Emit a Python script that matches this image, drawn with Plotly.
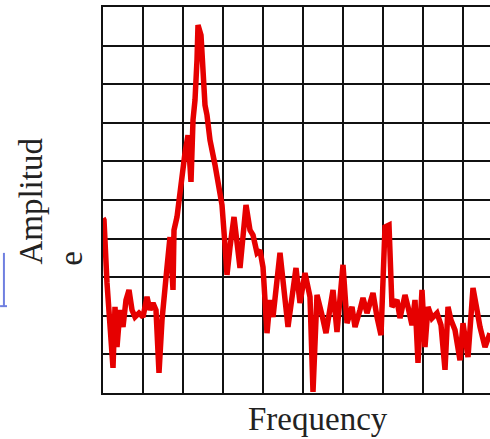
import plotly.graph_objects as go

frequency = [0.00, 0.025, 0.10, 0.25, 0.30, 0.35, 0.425, 0.50, 0.575, 0.65, 0.725, 0.80, 0.90, 1.00,
             1.10, 1.175, 1.25, 1.325, 1.40, 1.475, 1.60, 1.675, 1.75, 1.775, 1.85, 1.925, 1.975,
             2.05, 2.125, 2.20, 2.25, 2.30, 2.35, 2.375, 2.45, 2.50, 2.55, 2.60, 2.675, 2.80, 2.875,
             2.975, 3.05, 3.10, 3.175, 3.275, 3.425, 3.575, 3.675, 3.75, 3.85, 3.925, 4.00, 4.10,
             4.175, 4.25, 4.425, 4.625, 4.825, 4.925, 5.05, 5.175, 5.25, 5.35, 5.475, 5.575, 5.75,
             5.85, 6.00, 6.10, 6.225, 6.30, 6.425, 6.50, 6.60, 6.675, 6.75, 6.85, 6.95, 7.05, 7.15,
             7.225, 7.35, 7.425, 7.55, 7.625, 7.725, 7.80, 7.875, 7.975, 8.05, 8.125, 8.225, 8.35,
             8.45, 8.55, 8.625, 8.70, 8.80, 8.925, 9.00, 9.125, 9.25, 9.35, 9.425, 9.55, 9.675]

amplitude = [4.53, 4.48, 2.85, 0.65, 2.23, 1.19, 2.15, 1.71, 2.41, 2.67, 2.15, 1.97, 2.07, 1.97,
             2.49, 2.15, 2.33, 2.15, 0.52, 1.89, 3.26, 4.04, 2.67, 4.22, 4.56, 5.26, 5.78,
             6.22, 6.68, 5.47, 7.07, 7.59, 8.63, 9.53, 9.27, 8.19, 7.46, 7.20, 6.55, 5.91, 5.52,
             4.87, 3.83, 3.06, 3.78, 4.56, 3.24, 4.87, 4.22, 4.09, 3.63, 3.70, 3.26, 1.55,
             2.41, 1.97, 3.63, 1.71, 3.24, 2.33, 3.11, 2.49, 0.03, 2.54, 2.02, 1.55, 2.67,
             1.58, 3.32, 1.81, 2.23, 1.71, 2.15, 2.46, 2.07, 2.33, 2.59, 1.97, 1.50, 4.30, 4.35,
             2.23, 2.41, 1.94, 2.54, 2.23, 1.76, 2.41, 0.78, 2.67, 1.19, 2.23, 1.94, 2.07,
             1.76, 0.60, 2.23, 1.89, 1.63, 0.85, 1.81, 0.93, 2.72, 2.15, 1.71, 1.19, 1.55]

x_title = "Frequency"
y_title_lines = ["Amplitud", "e"]

fig = go.Figure()
fig.add_trace(go.Scatter(
    x=frequency, y=amplitude, mode="lines",
    line=dict(color="#e60000", width=5.5),
    hoverinfo="skip", showlegend=False,
))

serif = "Liberation Serif, Times New Roman, serif"

fig.update_layout(
    width=490, height=439,
    margin=dict(l=103, r=0, t=7, b=46),
    paper_bgcolor="white", plot_bgcolor="white",
    xaxis=dict(range=[0, 9.675], dtick=1, tick0=0, showgrid=True, gridcolor="#111",
               gridwidth=2, showticklabels=False, ticks="", zeroline=False,
               showline=True, linecolor="#111", linewidth=2, mirror=True),
    yaxis=dict(range=[0, 10], dtick=1, tick0=0, showgrid=True, gridcolor="#111",
               gridwidth=2, showticklabels=False, ticks="", zeroline=False,
               showline=True, linecolor="#111", linewidth=2, mirror=False),
    annotations=[
        dict(text=x_title, xref="paper", yref="paper", x=0.556, y=-0.068,
             showarrow=False, xanchor="center", yanchor="middle",
             font=dict(family=serif, size=33, color="#222")),
        dict(text=y_title_lines[0], xref="paper", yref="paper", x=-0.185, y=0.497,
             showarrow=False, textangle=-90, xanchor="center", yanchor="middle",
             font=dict(family=serif, size=33, color="#222")),
        dict(text=y_title_lines[1], xref="paper", yref="paper", x=-0.083, y=0.35,
             showarrow=False, textangle=-90, xanchor="center", yanchor="middle",
             font=dict(family=serif, size=33, color="#222")),
    ],
    shapes=[
        dict(type="line", xref="paper", yref="paper", x0=-0.256, x1=-0.256, y0=0.225, y1=0.363,
             line=dict(color="#6f7fe0", width=2)),
        dict(type="line", xref="paper", yref="paper", x0=-0.266, x1=-0.248, y0=0.225, y1=0.225,
             line=dict(color="#6f7fe0", width=2)),
    ],
)

fig.write_html("out.html", config={"displayModeBar": False, "staticPlot": True},
               post_script="document.body.style.margin='0px';document.body.style.overflow='hidden';")
